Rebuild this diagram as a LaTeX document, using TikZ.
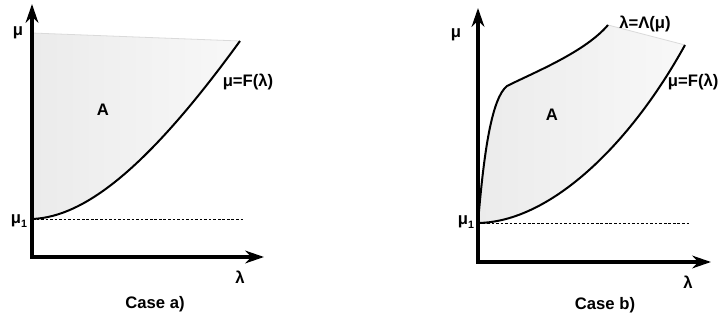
\documentclass[tikz,border=0pt]{standalone}
\usepackage{fontspec}
\setmainfont{Liberation Sans}
\usepackage{tikz}
\usetikzlibrary{arrows.meta, positioning, calc}
\definecolor{regiongray}{RGB}{235, 235, 235}
\definecolor{regionlight}{RGB}{248, 248, 248}
\definecolor{edgegray}{RGB}{218, 218, 218}

\begin{document}
\begin{tikzpicture}[x=0.75pt, y=-0.75pt,
    axis/.style={line width=2.4pt, line join=miter,
        {Stealth[length=14pt, width=9.5pt]}-{Stealth[length=14pt, width=9.5pt]}},
    branch/.style={line width=1.5pt},
    level/.style={line width=0.6pt, dash pattern=on 2pt off 1.4pt},
    lbl/.style={font=\fontsize{12.5}{15}\selectfont\bfseries, inner sep=1pt}]
    \useasboundingbox (0,0) rectangle (721,321);

    % ---------- Case a) ----------
    \coordinate (oA)    at (32,257);
    \coordinate (ytipA) at (32,4);
    \coordinate (xtipA) at (264,257);
    \coordinate (muA)   at (32,219);
    \coordinate (topA)  at (32,33);
    \coordinate (fendA) at (240,41);
    \coordinate (dashA) at (245,219);

    % Region A
    \shade[left color=regiongray, right color=regionlight]
        (topA) -- (muA) .. controls (86,217) and (150,165) .. (fendA) -- cycle;
    \draw[edgegray, line width=0.6pt] (topA) -- (fendA);

    % Level mu_1
    \draw[level] (muA) -- (dashA);

    % Curve mu=F(lambda)
    \draw[branch] (muA) .. controls (86,217) and (150,165) .. (fendA);

    % Axes
    \draw[axis] (ytipA) -- (oA) -- (xtipA);

    \node[lbl] (muLabA)  at (18,33)   {μ};
    \node[lbl] (mu1LabA) at (19,221)  {μ\raisebox{-0.45ex}{\fontsize{8}{9}\selectfont 1}};
    \node[lbl] (lamLabA) at (240,277) {λ};
    \node[lbl] (regA)    at (103,110) {A};
    \node[lbl] (fLabA)   at (248,82)  {μ=F(λ)};
    \node[lbl] (caseA)   at (155,304) {Case a)};

    % ---------- Case b) ----------
    \coordinate (oB)    at (478,262);
    \coordinate (ytipB) at (478,8);
    \coordinate (xtipB) at (711,262);
    \coordinate (muB)   at (478,223);
    \coordinate (kneeB) at (507,86);
    \coordinate (lendB) at (608,25);
    \coordinate (fendB) at (685,45);
    \coordinate (dashB) at (690,223);

    % Region A
    \shade[left color=regiongray, right color=regionlight]
        (muB) .. controls (484,150) and (492,98) .. (kneeB)
              .. controls (535,72) and (585,52) .. (lendB)
        -- (fendB) .. controls (630,145) and (550,222) .. (muB) -- cycle;
    \draw[edgegray, line width=0.6pt] (lendB) -- (fendB);

    % Level mu_1
    \draw[level] (muB) -- (dashB);

    % Curves lambda=Lambda(mu) and mu=F(lambda)
    \draw[branch] (muB) .. controls (484,150) and (492,98) .. (kneeB)
                        .. controls (535,72) and (585,52) .. (lendB);
    \draw[branch] (muB) .. controls (550,222) and (630,145) .. (fendB);

    % Axes
    \draw[axis] (ytipB) -- (oB) -- (xtipB);

    \node[lbl] (muLabB)  at (456,35)  {μ};
    \node[lbl] (mu1LabB) at (466,222) {μ\raisebox{-0.45ex}{\fontsize{8}{9}\selectfont 1}};
    \node[lbl] (lamLabB) at (688,282) {λ};
    \node[lbl] (regB)    at (552,115) {A};
    \node[lbl] (lLabB)   at (645,24)  {λ=Λ(μ)};
    \node[lbl, anchor=east] (fLabB) at (720,82) {μ=F(λ)};
    \node[lbl] (caseB)   at (605,305) {Case b)};
\end{tikzpicture}
\end{document}
